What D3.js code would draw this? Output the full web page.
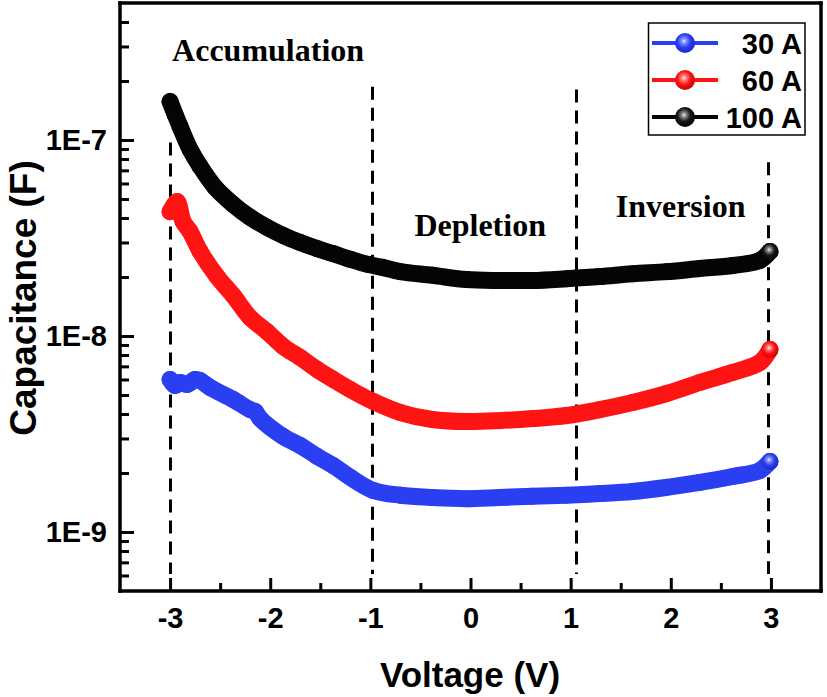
<!DOCTYPE html>
<html>
<head>
<meta charset="utf-8">
<script src="https://cdn.jsdelivr.net/npm/d3@7"></script>
<style>
  html, body { margin: 0; padding: 0; background: #fff; overflow: hidden; }
  svg { display: block; }
  text { font-family: "Liberation Sans", Arial, sans-serif; font-weight: bold; }
</style>
</head>
<body>
<div id="stage"></div>
<script>
// C-V data: voltage (V) and capacitance (F)
const v30 = [-3.00, -2.95, -2.90, -2.83, -2.75, -2.70, -2.60, -2.37, -2.20, -2.15, -2.10, -1.87, -1.70, -1.53, -1.37, -1.20, -0.97, -0.70, -0.38, -0.04, 0.29, 0.62, 0.96, 1.29, 1.62, 1.96, 2.29, 2.62, 2.89, 2.99];
const c30 = [6.00e-9, 5.59e-9, 5.79e-9, 5.66e-9, 6.00e-9, 5.93e-9, 5.46e-9, 4.74e-9, 4.21e-9, 4.12e-9, 3.79e-9, 3.07e-9, 2.76e-9, 2.43e-9, 2.18e-9, 1.90e-9, 1.63e-9, 1.54e-9, 1.50e-9, 1.48e-9, 1.50e-9, 1.52e-9, 1.54e-9, 1.57e-9, 1.61e-9, 1.69e-9, 1.79e-9, 1.92e-9, 2.06e-9, 2.29e-9];

const v60 = [-3.00, -2.93, -2.87, -2.80, -2.70, -2.53, -2.37, -2.20, -2.03, -1.87, -1.70, -1.53, -1.37, -1.20, -0.97, -0.70, -0.38, -0.04, 0.29, 0.62, 0.96, 1.29, 1.62, 1.96, 2.29, 2.62, 2.89, 2.99];
const c60 = [4.31e-8, 4.85e-8, 3.84e-8, 3.41e-8, 2.70e-8, 2.01e-8, 1.61e-8, 1.24e-8, 1.05e-8, 8.84e-9, 7.76e-9, 6.74e-9, 6.00e-9, 5.33e-9, 4.63e-9, 4.07e-9, 3.75e-9, 3.66e-9, 3.70e-9, 3.79e-9, 3.93e-9, 4.21e-9, 4.58e-9, 5.09e-9, 5.79e-9, 6.52e-9, 7.33e-9, 8.53e-9];

const v100 = [-3.00, -2.95, -2.90, -2.80, -2.70, -2.55, -2.37, -2.20, -2.03, -1.87, -1.70, -1.53, -1.37, -1.20, -1.03, -0.88, -0.70, -0.38, -0.04, 0.29, 0.62, 0.96, 1.29, 1.62, 1.96, 2.29, 2.62, 2.89, 2.99];
const c100 = [1.57e-7, 1.35e-7, 1.17e-7, 8.95e-8, 7.33e-8, 5.73e-8, 4.69e-8, 4.03e-8, 3.58e-8, 3.26e-8, 3.00e-8, 2.79e-8, 2.63e-8, 2.46e-8, 2.32e-8, 2.24e-8, 2.13e-8, 2.04e-8, 1.94e-8, 1.92e-8, 1.92e-8, 1.96e-8, 2.01e-8, 2.08e-8, 2.13e-8, 2.21e-8, 2.29e-8, 2.43e-8, 2.70e-8];

const seriesNames = ["30 A", "60 A", "100 A"];
const seriesColors = ["#2b3ff2", "#ff1414", "#050505"];

const xTicks = [-3, -2, -1, 0, 1, 2, 3];
const xMinor = [-2.5, -1.5, -0.5, 0.5, 1.5, 2.5];
const yTicks = [1e-9, 1e-8, 1e-7];
const yTickLabels = ["1E-9", "1E-8", "1E-7"];

// region borders (V) with the capacitance where each dashed line starts
const borderV = [-3, -0.98, 1.05, 2.97];
const borderTop = [9.7e-8, 1.87e-7, 1.81e-7, 7.7e-8];
const borderBottom = 6.1e-10;

const regionNames = ["Accumulation", "Depletion", "Inversion"];
const regionV = [-2.98, -0.56, 1.45];
const regionC = [2.52e-7, 3.22e-8, 4.07e-8];

const W = 827, H = 697;
const L = 120, R = 821, T = 3, B = 591;
const lw = 3.5;

const x = d3.scaleLinear().domain([-3.5, 3.5]).range([L, R]);
const y = d3.scaleLog().domain([5e-10, 5e-7]).range([B, T]);

const svg = d3.select("#stage").append("svg")
  .attr("width", W)
  .attr("height", H);

const defs = svg.append("defs");
const ball = (id, light, mid, dark) => {
  const g = defs.append("radialGradient").attr("id", id)
    .attr("cx", "45%").attr("cy", "40%").attr("r", "60%");
  g.append("stop").attr("offset", "0%").attr("stop-color", "#f4f4f4");
  g.append("stop").attr("offset", "18%").attr("stop-color", light);
  g.append("stop").attr("offset", "55%").attr("stop-color", mid);
  g.append("stop").attr("offset", "100%").attr("stop-color", dark);
};
ball("ball0", "#8a98ff", "#2b3ff2", "#1828c0");
ball("ball1", "#ff8a8a", "#ff1414", "#c80000");
ball("ball2", "#8a9090", "#151515", "#000000");

// dashed region borders
svg.append("g").selectAll("line")
  .data(borderV)
  .join("line")
  .attr("x1", d => Math.round(x(d)) + 0.5).attr("x2", d => Math.round(x(d)) + 0.5)
  .attr("y1", (d, i) => y(borderTop[i]))
  .attr("y2", y(borderBottom))
  .attr("stroke", "#000")
  .attr("stroke-width", 3)
  .attr("stroke-dasharray", "13,8");

// data bands
const allV = [v30, v60, v100];
const allC = [c30, c60, c100];
const curveFn = d3.line()
  .x(d => x(d[0]))
  .y(d => y(d[1]))
  .curve(d3.curveCatmullRom.alpha(0.5));

allV.forEach((vs, i) => {
  const pts = vs.map((v, j) => [v, allC[i][j]]);
  const g = svg.append("g");
  g.append("path")
    .attr("d", curveFn(pts))
    .attr("fill", "none")
    .attr("stroke", seriesColors[i])
    .attr("stroke-width", 17)
    .attr("stroke-linecap", "round")
    .attr("stroke-linejoin", "round");
  g.selectAll("circle")
    .data(pts)
    .join("circle")
    .attr("cx", d => x(d[0]))
    .attr("cy", d => y(d[1]))
    .attr("r", 8.5)
    .attr("fill", seriesColors[i]);
  const last = pts[pts.length - 1];
  g.append("circle")
    .attr("cx", x(last[0]))
    .attr("cy", y(last[1]))
    .attr("r", 8.5)
    .attr("fill", `url(#ball${i})`);
});

// axes: ticks point into the plot
const hyphen = d => String(d).replace("\u2212", "-");
const xAxis = svg.append("g")
  .attr("transform", `translate(0,${B})`)
  .call(d3.axisBottom(x).tickValues(xTicks).tickSize(-13).tickPadding(16).tickFormat(d => hyphen(d)));
const xAxisMinor = svg.append("g")
  .attr("transform", `translate(0,${B})`)
  .call(d3.axisBottom(x).tickValues(xMinor).tickSize(-8).tickFormat(""));

const yAxis = svg.append("g")
  .attr("transform", `translate(${L},0)`)
  .call(d3.axisLeft(y).tickValues(yTicks).tickSize(-14).tickPadding(13)
    .tickFormat((d, i) => yTickLabels[i]));

const yMinor = [];
[1e-10, 1e-9, 1e-8, 1e-7].forEach(dec => {
  for (let k = 2; k <= 9; k++) {
    const v = k * dec;
    if (v > 5e-10 && v < 5e-7) yMinor.push(v);
  }
});
const yAxisMinor = svg.append("g")
  .attr("transform", `translate(${L},0)`)
  .call(d3.axisLeft(y).tickValues(yMinor).tickSize(-9).tickFormat(""));

[xAxis, xAxisMinor, yAxis, yAxisMinor].forEach(a => {
  a.select(".domain").remove();
  a.selectAll(".tick line").attr("stroke", "#000").attr("stroke-width", 3);
  a.selectAll(".tick text")
    .attr("fill", "#000")
    .style("font-family", '"Liberation Sans", Arial, sans-serif')
    .style("font-weight", "bold")
    .style("font-size", "29px");
});

// frame, built from four filled bars
const frame = [
  [L - lw / 2, T - lw / 2, R - L + lw, lw],
  [L - lw / 2, B - lw / 2, R - L + lw, lw],
  [L - lw / 2, T - lw / 2, lw, B - T + lw],
  [R - lw / 2, T - lw / 2, lw, B - T + lw]
];
svg.append("g").selectAll("rect")
  .data(frame)
  .join("rect")
  .attr("x", d => d[0]).attr("y", d => d[1])
  .attr("width", d => d[2]).attr("height", d => d[3])
  .attr("fill", "#000");

// axis titles
svg.append("text")
  .attr("x", 470).attr("y", 687)
  .attr("text-anchor", "middle")
  .style("font-size", "35px")
  .text("Voltage (V)");

svg.append("text")
  .attr("transform", "translate(36,298) rotate(-90)")
  .attr("text-anchor", "middle")
  .style("font-size", "37px")
  .text("Capacitance (F)");

// region labels
svg.append("g").selectAll("text")
  .data(regionNames)
  .join("text")
  .attr("x", (d, i) => x(regionV[i]))
  .attr("y", (d, i) => y(regionC[i]))
  .style("font-family", '"Liberation Serif", "Times New Roman", serif')
  .style("font-size", "32px")
  .text(d => d);

// legend
const legend = svg.append("g");
legend.append("rect")
  .attr("x", 648.5).attr("y", 23)
  .attr("width", 156.5).attr("height", 112)
  .attr("fill", "#fff")
  .attr("stroke", "#000")
  .attr("stroke-width", 1.5);

const rowY = [43, 80, 117];
seriesNames.forEach((name, i) => {
  const row = legend.append("g").attr("transform", `translate(0,${rowY[i]})`);
  row.append("line")
    .attr("x1", 652).attr("x2", 718)
    .attr("stroke", seriesColors[i])
    .attr("stroke-width", 4);
  row.append("circle")
    .attr("cx", 685).attr("r", 10)
    .attr("fill", `url(#ball${i})`);
  row.append("text")
    .attr("x", 802).attr("y", 11)
    .attr("text-anchor", "end")
    .style("font-size", "29px")
    .text(name);
});
</script>
</body>
</html>
